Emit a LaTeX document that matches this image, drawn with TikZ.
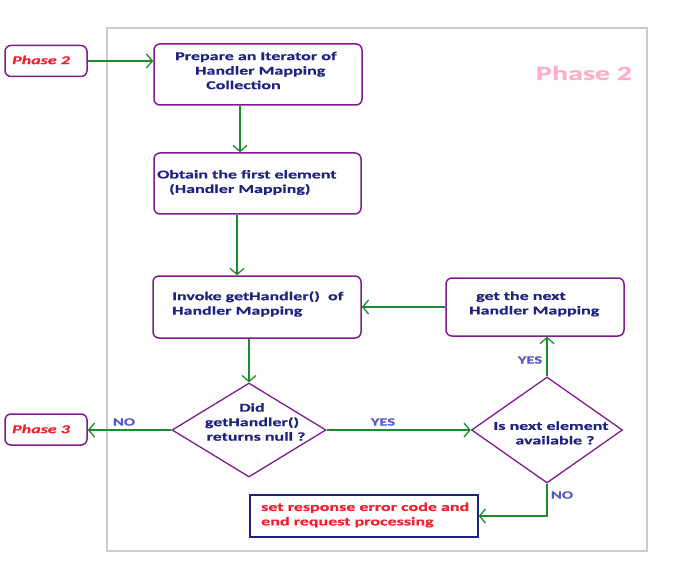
\documentclass[tikz,border=0pt]{standalone}
\usepackage{fontspec}
\setmainfont[FakeStretch=1.5,FakeBold=0.6]{Carlito}
\usetikzlibrary{arrows.meta,shapes.geometric}
\definecolor{boxpurple}{HTML}{7E1C8C}
\definecolor{arrgreen}{HTML}{1E8A2E}
\definecolor{navytext}{HTML}{1F237E}
\definecolor{lblue}{HTML}{5558C4}
\definecolor{redtext}{HTML}{F02030}
\definecolor{pinktext}{HTML}{FFB0C8}
\definecolor{framegray}{HTML}{CCCCCC}
\tikzset{
  procbox/.style={draw=boxpurple, line width=1.5pt, rounded corners=6pt, minimum width=#1, inner sep=0pt},
  decbox/.style={diamond, draw=boxpurple, line width=1.3pt, inner sep=0pt},
  phasebox/.style={draw=boxpurple, line width=1.5pt, rounded corners=6pt, minimum width=82pt, minimum height=31pt, inner sep=0pt},
  txt/.style={text=navytext, font=\bfseries\fontsize{12}{14.5}\selectfont, inner sep=0pt},
  lbl/.style={text=lblue, font=\bfseries\fontsize{11}{13}\selectfont, inner sep=0pt},
  phtxt/.style={text=redtext, font=\bfseries\itshape\fontsize{12}{14}\selectfont, inner sep=0pt},
  flow/.style={draw=arrgreen, line width=1.3pt, -{Straight Barb[length=6pt,width=14pt,line width=1.3pt]}}
}
\begin{document}
\begin{tikzpicture}[x=1pt,y=-1pt]
\useasboundingbox (0,0) rectangle (679,577);
% frame
\draw[framegray, line width=2pt] (107,28) rectangle (647,551);
\node[text=pinktext, font=\bfseries\fontsize{20}{22}\selectfont, inner sep=0pt] (wm) at (584,73) {Phase 2};
% phase boxes
\node[phasebox] (ph2) at (46,61) {};
\node[phtxt] (ph2t) at (41,60) {Phase 2};
\node[phasebox] (ph3) at (46,429.5) {};
\node[phtxt] (ph3t) at (41,429) {Phase 3};
% process boxes
\node[procbox=208pt, minimum height=61pt] (box1) at (258,74.5) {};
\node[txt, align=left, anchor=west] (box1t) at (175,70.5) {Prepare an Iterator of\\\hspace*{20pt}Handler Mapping\\\hspace*{31pt}Collection};
\node[procbox=207pt, minimum height=61pt] (box2) at (257.5,183.5) {};
\node[txt, align=left, anchor=west] (box2t) at (157,182.5) {Obtain the first element\\\hspace*{12pt}(Handler Mapping)};
\node[procbox=208pt, minimum height=62pt] (box3) at (257,307) {};
\node[txt, align=left, anchor=west] (box3t) at (172,304) {Invoke getHandler()\ \ of\\Handler Mapping};
\node[procbox=178pt, minimum height=58pt] (box4) at (535,307) {};
\node[txt, align=left, anchor=west] (box4t) at (469,304) {\hspace*{7pt}get the next\\Handler Mapping};
% decisions
\node[decbox, minimum width=154pt, minimum height=94pt] (d1) at (249,430) {};
\node[txt, align=center] (d1t) at (252,422) {Did\\getHandler()\\\hspace*{8pt}returns null ?};
\node[decbox, minimum width=151pt, minimum height=106pt] (d2) at (547,430) {};
\node[txt, align=center] (d2t) at (551,433) {Is next element\\\hspace*{8pt}available ?};
% error box
\node[draw=navytext, line width=1.3pt, minimum width=228pt, minimum height=42pt, inner sep=0pt] (err) at (364,516) {};
\node[text=redtext, font=\bfseries\fontsize{12}{14.5}\selectfont, inner sep=0pt, align=left, anchor=west] (errt) at (261,515) {set response error code and\\end request processing};
% helper coordinates
\coordinate (c1) at (240,0);
\coordinate (c2) at (237,0);
% connectors
\draw[flow] (ph2.east) -- (ph2.east -| box1.west);
\draw[flow] (box1.south -| c1) -- (box2.north -| c1);
\draw[flow] (box2.south -| c2) -- (box3.north -| c2);
\draw[flow] (box3.south -| d1.north) -- (d1.north);
\draw[flow] (d1.west) -- (d1.west -| ph3.east);
\draw[flow] (d1.east) -- (d2.west);
\draw[flow] (d2.north) -- (d2.north |- box4.south);
\draw[flow] (box4.west) -- (box4.west -| box3.east);
\draw[flow] (d2.south) |- (err.east);
% labels
\node[lbl] (lno1) at (124,422) {NO};
\node[lbl] (lyes1) at (383,422) {YES};
\node[lbl] (lyes2) at (530,360) {YES};
\node[lbl] (lno2) at (562,495) {NO};
\end{tikzpicture}
\end{document}
